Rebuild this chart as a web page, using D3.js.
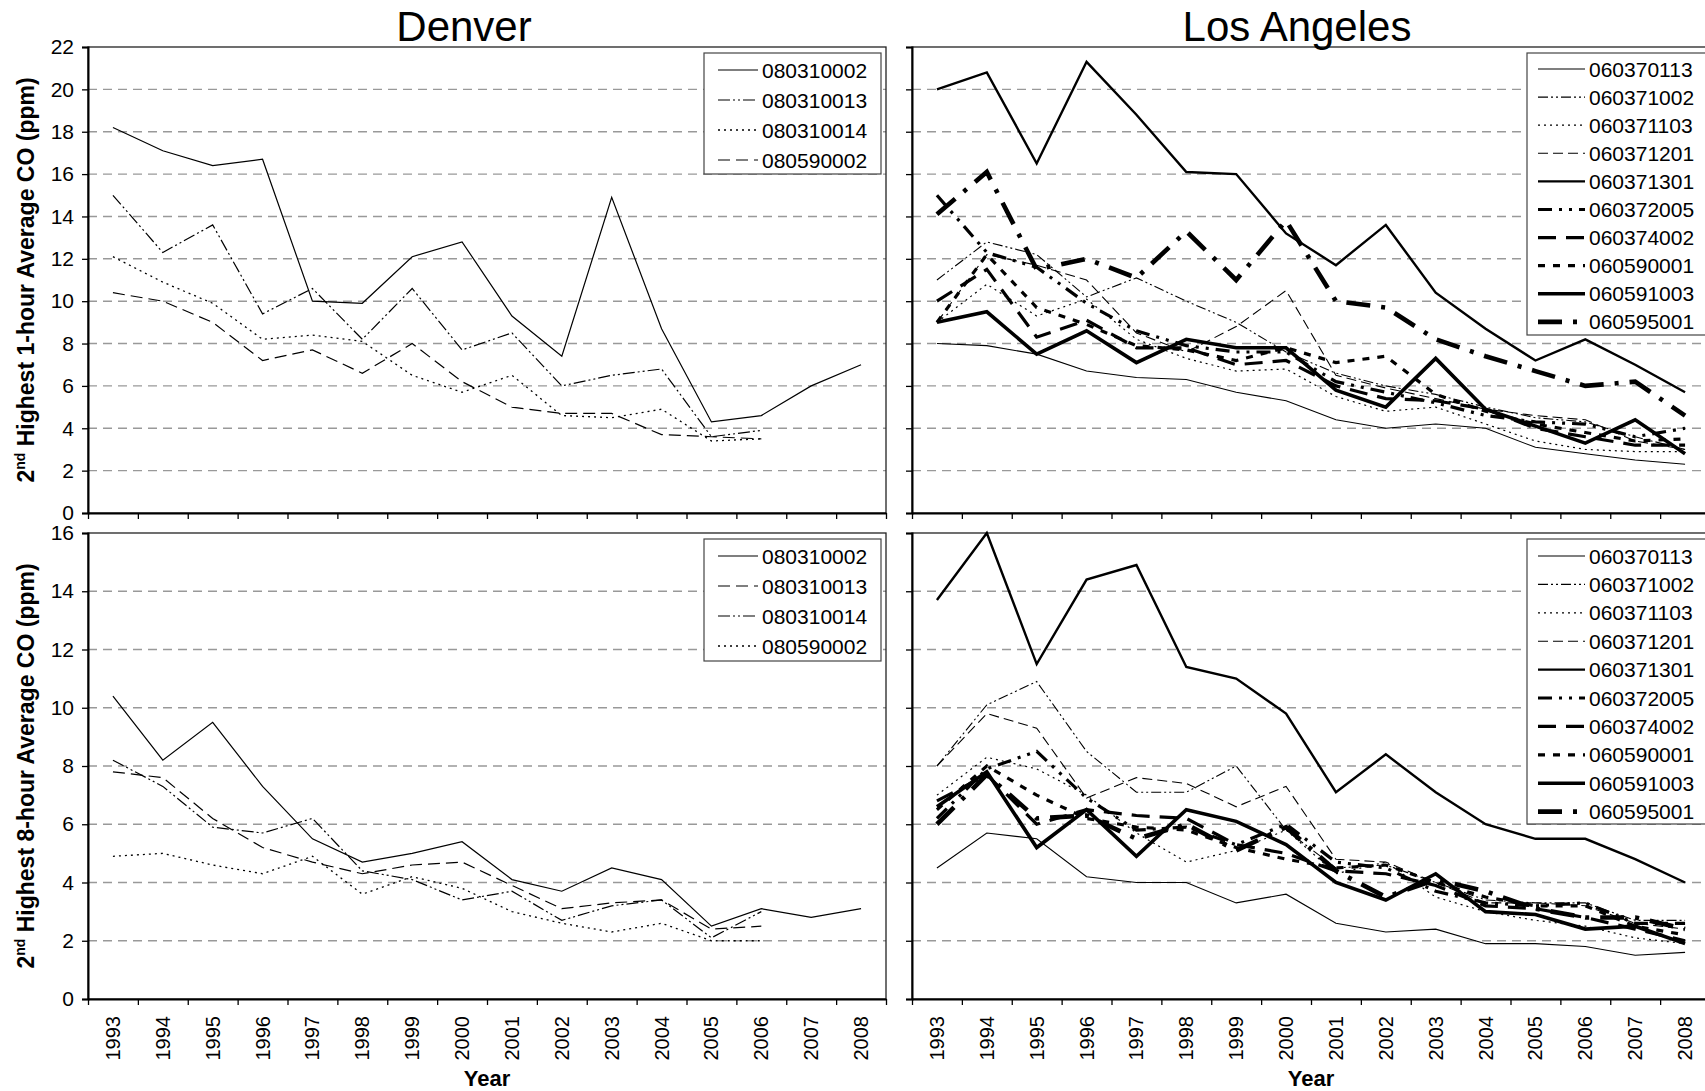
<!DOCTYPE html>
<html>
<head>
<meta charset="utf-8">
<script src="https://cdn.jsdelivr.net/npm/d3@7"></script>
<style>
  body { margin: 0; background: #fff; }
  svg { display: block; font-family: "Liberation Sans", Arial, sans-serif; }
</style>
</head>
<body>
<svg id="chart" width="1705" height="1091"></svg>
<script>
// ---- data ----
const years = ['1993','1994','1995','1996','1997','1998','1999','2000',
               '2001','2002','2003','2004','2005','2006','2007','2008'];

const denverTopSites = ['080310002','080310013','080310014','080590002'];
const denverTopValues = [
  [18.2,17.1,16.4,16.7,10.0,9.9,12.1,12.8,9.3,7.4,14.9,8.7,4.3,4.6,6.0,7.0],
  [15.0,12.3,13.6,9.4,10.6,8.2,10.6,7.7,8.5,6.0,6.5,6.8,3.6,3.9,null,null],
  [12.1,10.9,9.9,8.2,8.4,8.1,6.5,5.7,6.5,4.6,4.5,4.9,3.4,3.5,null,null],
  [10.4,10.0,9.0,7.2,7.7,6.6,8.0,6.2,5.0,4.7,4.7,3.7,3.6,3.5,null,null]
];

const denverBotSites = ['080310002','080310013','080310014','080590002'];
const denverBotValues = [
  [10.4,8.2,9.5,7.3,5.5,4.7,5.0,5.4,4.1,3.7,4.5,4.1,2.5,3.1,2.8,3.1],
  [7.8,7.6,6.2,5.2,4.7,4.3,4.6,4.7,3.9,3.1,3.3,3.4,2.4,2.5,null,null],
  [8.2,7.3,5.9,5.7,6.2,4.4,4.1,3.4,3.7,2.7,3.2,3.4,2.1,3.0,null,null],
  [4.9,5.0,4.6,4.3,4.9,3.6,4.2,3.8,3.0,2.6,2.3,2.6,2.0,2.0,null,null]
];

const laSites = ['060370113','060371002','060371103','060371201','060371301',
                 '060372005','060374002','060590001','060591003','060595001'];
const laTopValues = [
  [8.0,7.9,7.5,6.7,6.4,6.3,5.7,5.3,4.4,4.0,4.2,4.0,3.1,2.8,2.5,2.3],
  [11.0,12.8,12.2,10.2,11.1,10.0,9.0,7.6,6.6,6.0,5.6,5.0,4.5,4.3,3.6,3.0],
  [9.0,10.8,9.3,10.1,8.2,7.3,6.7,6.8,5.5,4.8,5.0,4.2,3.4,3.0,2.9,2.9],
  [9.0,12.2,11.7,11.0,8.5,7.6,8.8,10.5,6.5,5.9,5.4,4.9,4.6,4.4,3.4,3.0],
  [20.0,20.8,16.5,21.3,18.8,16.1,16.0,13.2,11.7,13.6,10.4,8.7,7.2,8.2,7.0,5.7],
  [15.0,12.3,11.6,9.9,8.6,7.9,7.6,7.6,6.2,5.7,5.2,4.6,4.3,4.2,3.6,4.0],
  [10.0,11.5,8.3,9.1,7.8,7.8,7.0,7.2,6.0,5.4,5.3,4.9,4.0,3.6,3.2,3.2],
  [9.0,12.2,9.7,8.9,7.9,7.7,7.2,7.8,7.1,7.4,5.6,4.8,4.2,3.8,3.4,3.5],
  [9.0,9.5,7.5,8.6,7.1,8.2,7.8,7.8,5.8,5.0,7.3,4.9,4.1,3.3,4.4,2.8],
  [14.1,16.1,11.5,12.0,11.1,13.3,11.0,13.8,10.0,9.7,8.2,7.4,6.7,6.0,6.2,4.6]
];
const laBotValues = [
  [4.5,5.7,5.5,4.2,4.0,4.0,3.3,3.6,2.6,2.3,2.4,1.9,1.9,1.8,1.5,1.6],
  [8.0,10.1,10.9,8.5,7.1,7.1,8.0,5.8,4.5,4.6,4.0,3.4,3.3,3.3,2.7,2.7],
  [7.0,8.3,7.9,7.0,5.7,4.7,5.1,5.8,4.3,4.7,3.5,3.0,2.7,2.5,2.1,1.9],
  [8.0,9.8,9.3,6.9,7.6,7.4,6.6,7.3,4.8,4.7,4.0,3.3,3.3,3.2,2.6,2.4],
  [13.7,16.0,11.5,14.4,14.9,11.4,11.0,9.8,7.1,8.4,7.1,6.0,5.5,5.5,4.8,4.0],
  [6.2,7.9,8.5,6.9,5.8,5.9,5.3,6.0,4.7,4.5,3.7,3.3,3.2,3.3,2.6,2.6],
  [6.8,7.7,6.0,6.5,6.3,6.2,5.3,5.0,4.4,4.3,3.9,3.2,3.1,2.8,2.4,2.0],
  [6.5,8.0,7.0,6.2,5.9,5.8,5.2,4.8,4.5,4.6,4.0,3.5,3.2,3.2,2.5,2.2],
  [6.6,7.8,5.2,6.5,4.9,6.5,6.1,5.3,4.0,3.4,4.3,3.0,2.9,2.4,2.5,1.9],
  [6.0,7.7,6.2,6.3,5.5,6.0,5.1,5.9,4.4,3.5,4.1,3.7,3.1,2.8,2.8,2.4]
];

const topTicks = d3.range(0, 23, 2);
const botTicks = d3.range(0, 17, 2);

// ---- line styles ----
const solid = { w: 1.2, dash: null };
const dashDotDot = { w: 1.2, dash: '12,3,2,3,2,3' };
const dotted = { w: 1.3, dash: '2,4' };
const dashed = { w: 1.2, dash: '12,6' };

const denverTopStyles = [solid, dashDotDot, dotted, dashed];
const denverBotStyles = [solid, dashed, dashDotDot, dotted];
const laStyles = [
  { w: 1.1, dash: null },
  { w: 1.1, dash: '10,3,2,3,2,3' },
  { w: 1.2, dash: '2,4' },
  { w: 1.1, dash: '10,5' },
  { w: 2.4, dash: null },
  { w: 3.2, dash: '14,7,3,7,3,7' },
  { w: 3.2, dash: '18,10' },
  { w: 3.2, dash: '7,8' },
  { w: 3.6, dash: null },
  { w: 4.6, dash: '24,11,4,11' }
];

// ---- layout ----
const FONT = '"Liberation Sans", Arial, sans-serif';
const svg = d3.select('#chart');
const L = { x0: 88, x1: 886 };
const R = { x0: 912, x1: 1710 };
const T = { y0: 47, y1: 513 };
const B = { y0: 533, y1: 999 };

function panel(cols, rows, yMax, ticks, sites, values, styles, opts) {
  const g = svg.append('g');
  const x = d3.scaleBand().domain(years).range([cols.x0, cols.x1]);
  const y = d3.scaleLinear().domain([0, yMax]).range([rows.y1, rows.y0]);

  // grid
  g.append('g').selectAll('line')
    .data(ticks.filter(t => t > 0 && t < yMax))
    .join('line')
    .attr('x1', cols.x0).attr('x2', cols.x1)
    .attr('y1', d => y(d)).attr('y2', d => y(d))
    .attr('stroke', '#999').attr('stroke-width', 1.4)
    .attr('stroke-dasharray', '9,6');

  // frame
  g.append('rect')
    .attr('x', cols.x0).attr('y', rows.y0)
    .attr('width', cols.x1 - cols.x0).attr('height', rows.y1 - rows.y0)
    .attr('fill', 'none').attr('stroke', '#222').attr('stroke-width', 1.3);

  // y axis
  const ya = g.append('g')
    .attr('transform', `translate(${cols.x0},0)`)
    .call(d3.axisLeft(y).tickValues(ticks).tickSize(6).tickPadding(8)
      .tickFormat(opts.yLabels ? d3.format('d') : ''));
  ya.select('.domain').attr('stroke-width', 2);
  ya.selectAll('.tick line').attr('stroke-width', 1.3);
  ya.selectAll('text').attr('font-size', 21).attr('fill', '#000')
    .attr('font-family', FONT);

  // x axis: ticks between categories
  const xb = d3.scaleLinear().domain([0, years.length]).range([cols.x0, cols.x1]);
  const xa = g.append('g')
    .attr('transform', `translate(0,${rows.y1})`)
    .call(d3.axisBottom(xb).tickValues(d3.range(0, years.length + 1))
      .tickSize(6).tickSizeOuter(0).tickFormat(''));
  xa.select('.domain').attr('stroke-width', 2);
  xa.selectAll('.tick line').attr('stroke-width', 1.3);

  if (opts.xLabels) {
    const xl = g.append('g')
      .attr('transform', `translate(0,${rows.y1})`)
      .call(d3.axisBottom(x).tickSize(0).tickPadding(0));
    xl.select('.domain').remove();
    xl.selectAll('text')
      .attr('font-size', 20).attr('fill', '#000')
      .attr('font-family', FONT)
      .attr('text-anchor', 'end')
      .attr('dy', null).attr('y', 0)
      .attr('dominant-baseline', 'central')
      .attr('transform', 'translate(0,17) rotate(-90)');
    g.append('text')
      .attr('x', (cols.x0 + cols.x1) / 2).attr('y', rows.y1 + 87)
      .attr('text-anchor', 'middle').attr('font-weight', 'bold')
      .attr('font-size', 22).text('Year');
  }

  // series
  const line = d3.line()
    .defined(d => d != null)
    .x((d, i) => x(years[i]) + x.bandwidth() / 2)
    .y(d => y(d));
  g.append('g').selectAll('path')
    .data(values)
    .join('path')
    .attr('d', line)
    .attr('fill', 'none')
    .attr('stroke', '#000')
    .attr('stroke-linejoin', 'miter')
    .attr('stroke-width', (d, i) => styles[i].w)
    .attr('stroke-dasharray', (d, i) => styles[i].dash);

  // legend
  const lg = g.append('g');
  lg.append('rect')
    .attr('x', opts.lx).attr('y', rows.y0 + 6)
    .attr('width', opts.lw).attr('height', opts.lh)
    .attr('fill', '#fff').attr('stroke', '#444').attr('stroke-width', 1.2);
  const item = lg.selectAll('g.item').data(sites).join('g')
    .attr('transform', (d, i) => `translate(0,${rows.y0 + opts.r0 + i * opts.rs})`);
  item.append('line')
    .attr('x1', opts.lx + opts.s0).attr('x2', opts.lx + opts.s1)
    .attr('stroke', '#000')
    .attr('stroke-width', (d, i) => styles[i].w)
    .attr('stroke-dasharray', (d, i) => styles[i].dash);
  item.append('text')
    .attr('x', opts.lx + opts.s1 + 4)
    .attr('dominant-baseline', 'central')
    .attr('font-size', 21)
    .text(d => d);
}

panel(L, T, 22, topTicks, denverTopSites, denverTopValues, denverTopStyles,
  { yLabels: true, xLabels: false, lx: 704, lw: 177, lh: 121, r0: 23, rs: 30, s0: 14, s1: 54 });
panel(L, B, 16, botTicks, denverBotSites, denverBotValues, denverBotStyles,
  { yLabels: true, xLabels: true, lx: 704, lw: 177, lh: 122, r0: 23, rs: 30, s0: 14, s1: 54 });
panel(R, T, 22, topTicks, laSites, laTopValues, laStyles,
  { yLabels: false, xLabels: false, lx: 1527, lw: 190, lh: 282, r0: 22, rs: 28.1, s0: 11, s1: 58 });
panel(R, B, 16, botTicks, laSites, laBotValues, laStyles,
  { yLabels: false, xLabels: true, lx: 1527, lw: 190, lh: 285, r0: 23, rs: 28.4, s0: 11, s1: 58 });

// titles
svg.append('text').attr('x', 464).attr('y', 41).attr('text-anchor', 'middle')
  .attr('font-size', 42).text('Denver');
svg.append('text').attr('x', 1297).attr('y', 41).attr('text-anchor', 'middle')
  .attr('font-size', 42).text('Los Angeles');

// y axis titles
function yTitle(cy, label) {
  const t = svg.append('text')
    .attr('transform', `translate(34,${cy}) rotate(-90)`)
    .attr('text-anchor', 'middle')
    .attr('font-weight', 'bold').attr('font-size', 23);
  t.append('tspan').text('2');
  t.append('tspan').attr('font-size', 14).attr('dy', -9).text('nd');
  t.append('tspan').attr('dy', 9).text(' ' + label);
}
yTitle((T.y0 + T.y1) / 2, 'Highest 1-hour Average CO (ppm)');
yTitle((B.y0 + B.y1) / 2, 'Highest 8-hour Average CO (ppm)');
</script>
</body>
</html>
